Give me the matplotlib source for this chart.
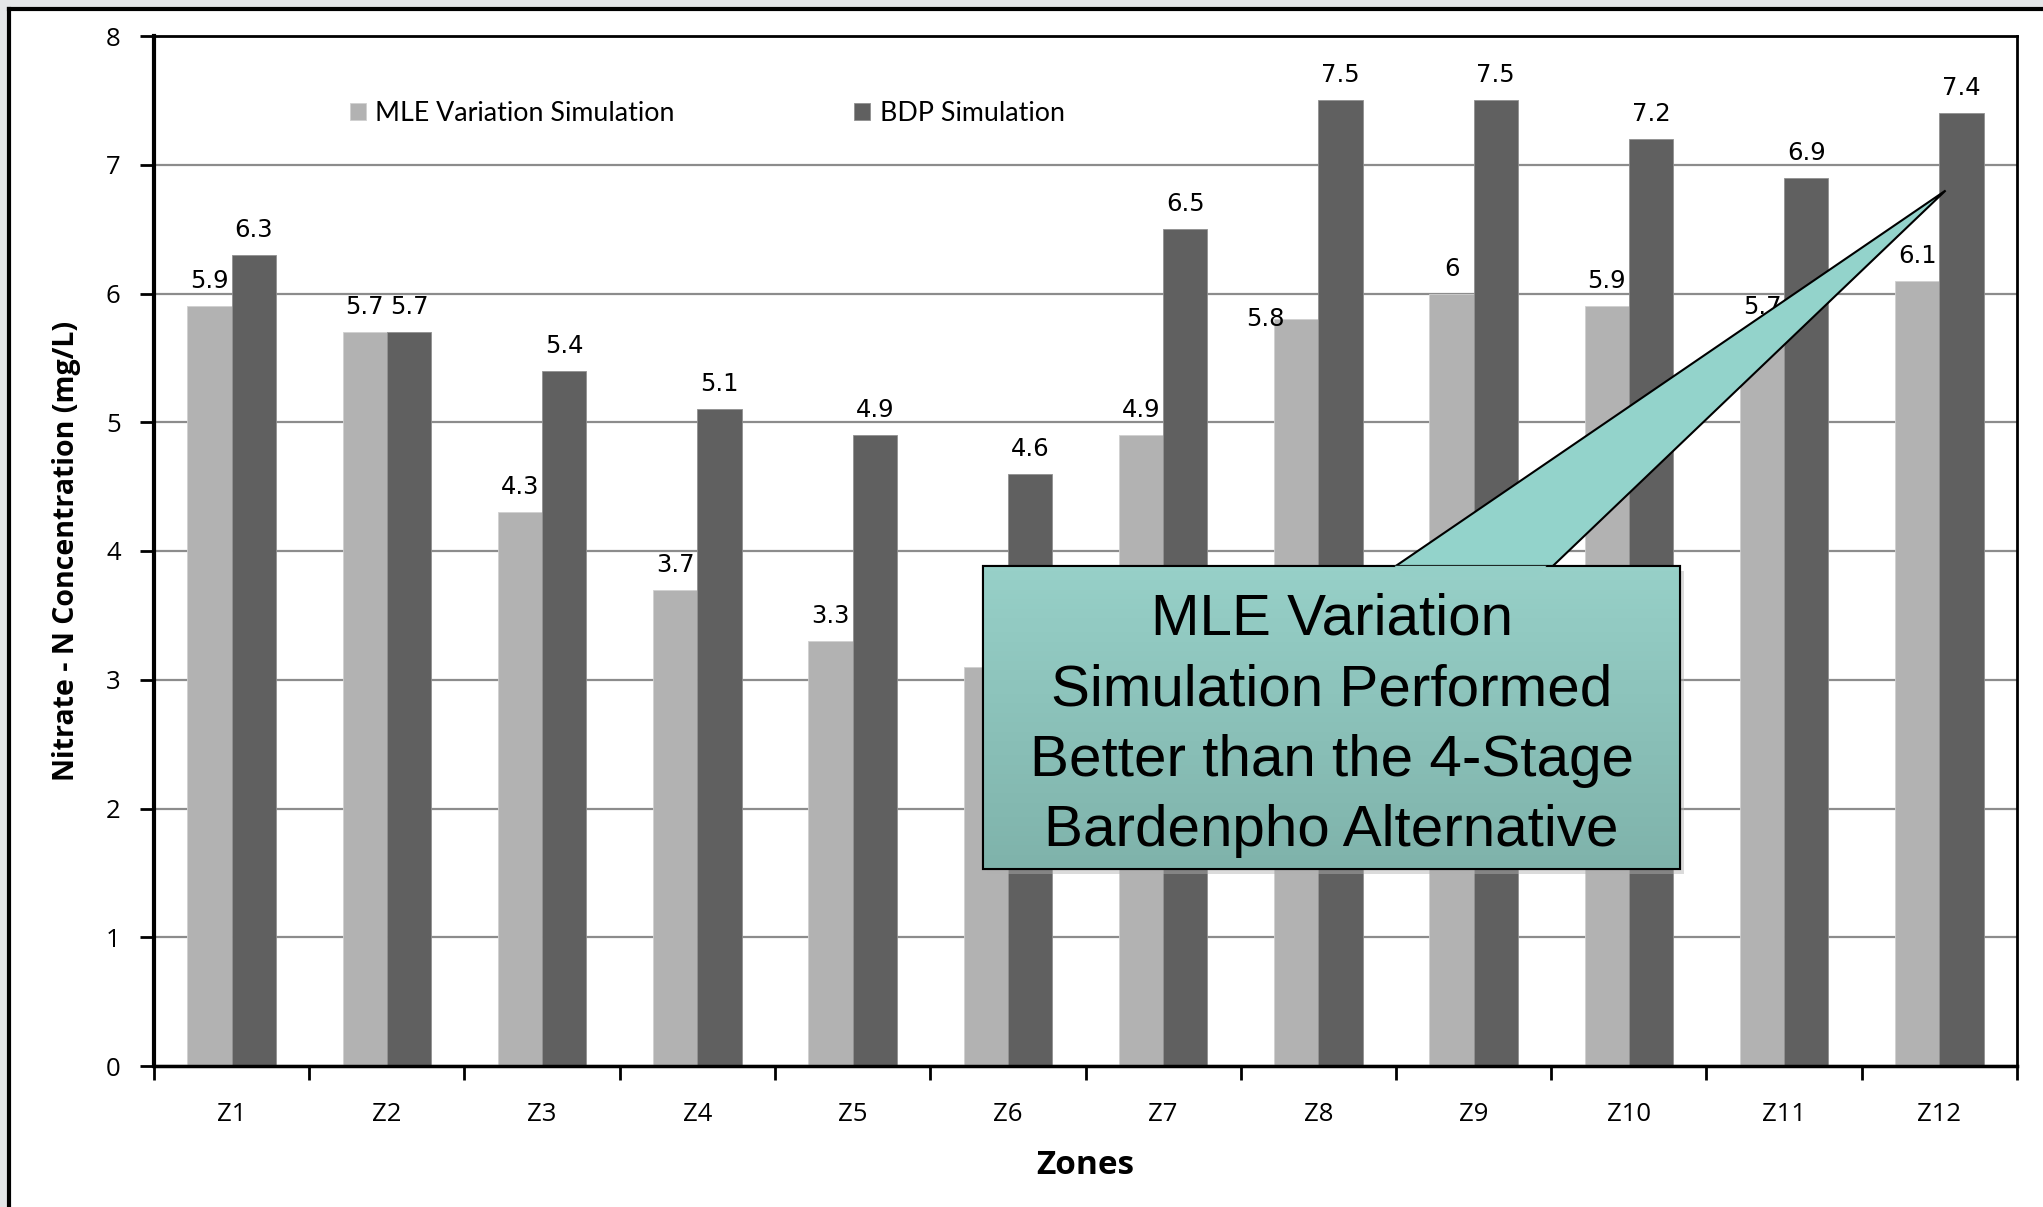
import numpy as np
import matplotlib.pyplot as plt
from matplotlib.patches import Polygon, Rectangle
from matplotlib.lines import Line2D
from matplotlib.colors import LinearSegmentedColormap

zones = ['Z1', 'Z2', 'Z3', 'Z4', 'Z5', 'Z6', 'Z7', 'Z8', 'Z9', 'Z10', 'Z11', 'Z12']
mle = [5.9, 5.7, 4.3, 3.7, 3.3, 3.1, 4.9, 5.8, 6.0, 5.9, 5.7, 6.1]
bdp = [6.3, 5.7, 5.4, 5.1, 4.9, 4.6, 6.5, 7.5, 7.5, 7.2, 6.9, 7.4]
series_names = ['MLE Variation Simulation', 'BDP Simulation']
callout_text = 'MLE Variation\nSimulation Performed\nBetter than the 4-Stage\nBardenpho Alternative'

MLE_COLOR = '#b2b2b2'
BDP_COLOR = '#606060'

fig = plt.figure(figsize=(20.43, 12.07), dpi=100)
fig.patch.set_facecolor('white')

# slide frame: grey strip left/top and black border lines
fig.add_artist(Rectangle((0, 0), 7 / 2043, 1, transform=fig.transFigure,
                         facecolor='#e4e6e8', edgecolor='none'))
fig.add_artist(Rectangle((0, 1 - 7 / 1207), 1, 7 / 1207, transform=fig.transFigure,
                         facecolor='#e4e6e8', edgecolor='none'))
fig.add_artist(Line2D([8.5 / 2043, 8.5 / 2043], [0, 1 - 8.5 / 1207], transform=fig.transFigure,
                      color='black', lw=3))
fig.add_artist(Line2D([8.5 / 2043, 1], [1 - 8.5 / 1207, 1 - 8.5 / 1207], transform=fig.transFigure,
                      color='black', lw=3))

ax = fig.add_axes([154 / 2043, 1 - 1066 / 1207, (2017 - 154) / 2043, (1066 - 36) / 1207])

x = np.arange(len(zones))
w = 0.285
ax.bar(x - w / 2, mle, w, color=MLE_COLOR, edgecolor='#d0d0d0', linewidth=0.6,
       label=series_names[0], zorder=2)
ax.bar(x + w / 2, bdp, w, color=BDP_COLOR, edgecolor='#909090', linewidth=0.6,
       label=series_names[1], zorder=2)

# value labels (Z8 MLE label was pushed aside, Z6 MLE label sits under the callout)
nudges = {('mle', 7): (-22, 0)}
hidden = {('mle', 5)}
for name, vals, offs in (('mle', mle, -w / 2), ('bdp', bdp, w / 2)):
    for i, v in enumerate(vals):
        if (name, i) in hidden:
            continue
        dx, dy = nudges.get((name, i), (0, 18))
        ax.annotate(f'{v:g}', (i + offs, v), xytext=(dx, dy), textcoords='offset points',
                    ha='center', va='center', fontsize=17.5, family='DejaVu Sans', zorder=3)

ax.set_xlim(-0.5, len(zones) - 0.5)
ax.set_ylim(0, 8)
ax.set_yticks(range(0, 9))
ax.yaxis.grid(True, color='#8c8c8c', lw=1.6, zorder=0)
ax.set_axisbelow(True)

ax.set_xticks(np.arange(-0.5, len(zones) + 0.5, 1))
ax.set_xticklabels([])
ax.set_xticks(x, minor=True)
ax.set_xticklabels(zones, minor=True, fontsize=18.5, family='Open Sans')
ax.tick_params(axis='x', which='minor', length=0, pad=26)
ax.tick_params(axis='x', which='major', length=10, width=2, direction='out')
ax.tick_params(axis='y', length=10, width=2, direction='out', labelsize=18.5, pad=14)
for lbl in ax.get_yticklabels():
    lbl.set_family('Open Sans')

for s in ax.spines.values():
    s.set_linewidth(2)
ax.spines['left'].set_linewidth(3)
ax.spines['bottom'].set_linewidth(2.5)

ax.set_ylabel('Nitrate - N Concentration (mg/L)', fontsize=20.5, fontweight='bold',
              family='Open Sans', labelpad=18)
ax.set_xlabel('Zones', fontsize=24, fontweight='bold', family='Open Sans', labelpad=16)

ax.legend(loc='center left', bbox_to_anchor=(0.105, 0.925), ncol=2, frameon=False,
          borderaxespad=0, borderpad=0, columnspacing=6.7, handlelength=0.6,
          handleheight=0.6, handletextpad=0.35, prop={'family': 'Lato', 'size': 19.3})

# callout with pointer
box_x0, box_x1, box_y0, box_y1 = 4.84, 9.33, 1.53, 3.88
tip = (11.04, 6.8)
ax.add_patch(Rectangle((box_x0 + 0.025, box_y0 - 0.035), box_x1 - box_x0, box_y1 - box_y0,
                       facecolor='#b0b0b0', edgecolor='none', alpha=0.45, zorder=4))
wedge = Polygon([(7.47, box_y1 - 0.02), tip, (8.49, box_y1 - 0.02)], closed=True,
                facecolor='#93d3cb', edgecolor='black', lw=1.5, zorder=5)
ax.add_patch(wedge)
box = Rectangle((box_x0, box_y0), box_x1 - box_x0, box_y1 - box_y0,
                facecolor='#8cc2ba', edgecolor='black', lw=1.5, zorder=6)
ax.add_patch(box)
grad = np.linspace(0, 1, 64).reshape(-1, 1)
teal = LinearSegmentedColormap.from_list('teal', ['#97d0c8', '#7fb3ab'])
img = ax.imshow(grad, extent=(box_x0, box_x1, box_y0, box_y1), origin='upper',
                cmap=teal, aspect='auto', zorder=6.5)
img.set_clip_path(box)
ax.add_patch(Rectangle((box_x0, box_y0), box_x1 - box_x0, box_y1 - box_y0,
                       facecolor='none', edgecolor='black', lw=1.5, zorder=6.6))
ax.add_patch(Polygon([(7.49, box_y1 + 0.005), (8.47, box_y1 + 0.005), (8.4, box_y1 - 0.08),
                      (7.56, box_y1 - 0.08)], closed=True, facecolor='#95cfc7',
                     edgecolor='none', zorder=7))
ax.text((box_x0 + box_x1) / 2, (box_y0 + box_y1) / 2 - 0.06, callout_text, ha='center',
        va='center', fontsize=42, family='Liberation Sans', linespacing=1.39, zorder=8)

ax.set_xlim(-0.5, len(zones) - 0.5)
ax.set_ylim(0, 8)

fig.savefig('out.png', dpi=100)
